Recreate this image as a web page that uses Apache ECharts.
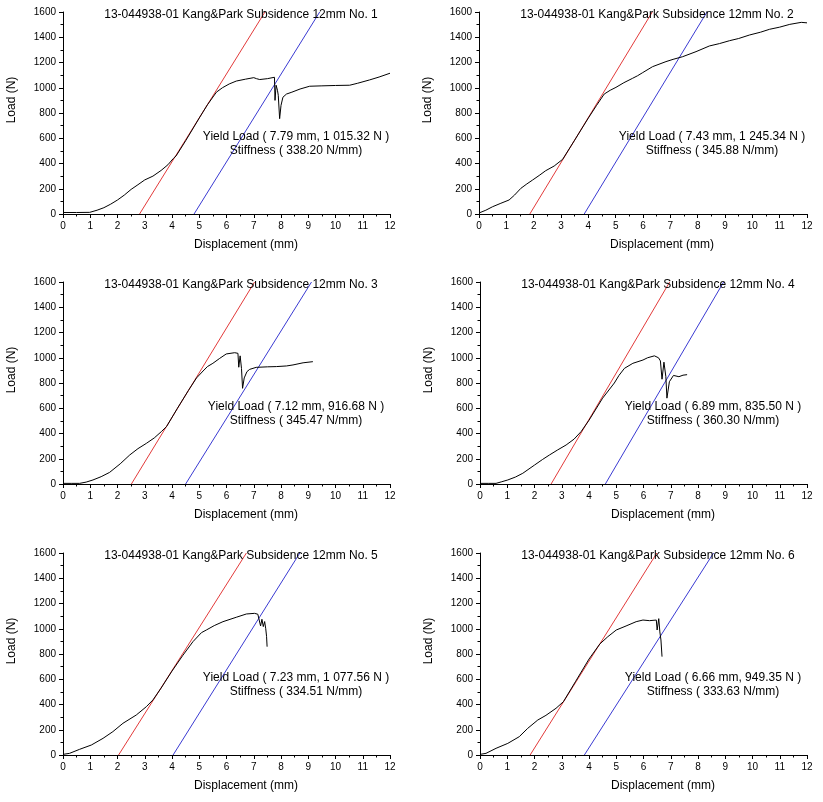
<!DOCTYPE html>
<html>
<head>
<meta charset="utf-8">
<script src="https://cdn.jsdelivr.net/npm/echarts@6/dist/echarts.min.js"></script>
<style>
html,body{margin:0;padding:0;background:#fff;}
#chart{width:823px;height:802px;}
</style>
</head>
<body>
<div id="chart"></div>
<script>
// ---- data ----
var titles = [
  '13-044938-01 Kang&Park Subsidence 12mm No. 1',
  '13-044938-01 Kang&Park Subsidence 12mm No. 2',
  '13-044938-01 Kang&Park Subsidence 12mm No. 3',
  '13-044938-01 Kang&Park Subsidence 12mm No. 4',
  '13-044938-01 Kang&Park Subsidence 12mm No. 5',
  '13-044938-01 Kang&Park Subsidence 12mm No. 6'
];
var yieldTexts = [
  'Yield Load ( 7.79 mm, 1 015.32 N )',
  'Yield Load ( 7.43 mm, 1 245.34 N )',
  'Yield Load ( 7.12 mm, 916.68 N )',
  'Yield Load ( 6.89 mm, 835.50 N )',
  'Yield Load ( 7.23 mm, 1 077.56 N )',
  'Yield Load ( 6.66 mm, 949.35 N )'
];
var stiffnessTexts = [
  'Stiffness ( 338.20 N/mm)',
  'Stiffness ( 345.88 N/mm)',
  'Stiffness ( 345.47 N/mm)',
  'Stiffness ( 360.30 N/mm)',
  'Stiffness ( 334.51 N/mm)',
  'Stiffness ( 333.63 N/mm)'
];
var xTicks = [0,1,2,3,4,5,6,7,8,9,10,11,12];
var yTicks = [0,200,400,600,800,1000,1200,1400,1600];
var xAxisName = 'Displacement (mm)';
var yAxisName = 'Load (N)';

var curve1 = [[0,12],[0.5,12],[0.98,13],[1.25,30],[1.5,50],[1.75,78],[2.0,111],[2.25,150],[2.5,195],[2.75,232],[3.0,270],[3.3,300],[3.6,345],[3.85,390],[4.05,440],[4.15,460],[4.5,580],[5.0,760],[5.3,865],[5.63,965],[5.85,1000],[6.1,1030],[6.36,1053],[6.7,1068],[7.0,1080],[7.1,1072],[7.22,1065],[7.5,1072],[7.76,1083],[7.78,900],[7.82,1020],[7.87,980],[7.9,940],[7.95,755],[8.0,860],[8.07,925],[8.2,950],[8.4,965],[8.7,990],[9.05,1012],[9.5,1015],[10.0,1018],[10.52,1020],[10.8,1035],[11.25,1062],[11.6,1085],[12.0,1115]];
var curve2 = [[0,8],[0.25,30],[0.5,58],[0.8,85],[1.1,111],[1.3,150],[1.53,203],[1.75,238],[1.96,269],[2.2,305],[2.44,343],[2.75,380],[3.06,433],[3.5,585],[4.0,760],[4.3,860],[4.58,950],[4.8,980],[5.01,1003],[5.3,1040],[5.62,1075],[5.8,1095],[5.99,1120],[6.35,1167],[6.84,1207],[7.1,1225],[7.45,1246],[7.94,1286],[8.43,1331],[8.8,1350],[9.17,1373],[9.5,1390],[9.9,1418],[10.3,1440],[10.63,1463],[11.0,1480],[11.37,1502],[11.79,1518],[12.0,1514]];
var curve3 = [[0,5],[0.3,5],[0.61,5],[0.85,15],[1.1,32],[1.4,58],[1.71,92],[2.1,160],[2.45,230],[2.75,280],[3.06,322],[3.35,365],[3.61,415],[3.8,455],[4.2,600],[4.6,740],[4.9,840],[5.14,895],[5.3,930],[5.5,956],[5.75,995],[5.99,1030],[6.3,1040],[6.42,1035],[6.45,925],[6.5,1015],[6.55,915],[6.59,758],[6.65,840],[6.75,890],[6.85,908],[7.09,924],[7.5,928],[7.83,930],[8.2,935],[8.44,943],[8.81,960],[9.17,969]];
var curve4 = [[0,5],[0.3,5],[0.59,5],[0.8,18],[1.02,32],[1.3,55],[1.57,85],[2.0,150],[2.3,195],[2.55,230],[2.85,270],[3.16,309],[3.45,355],[3.71,415],[4.0,505],[4.5,680],[4.93,800],[5.1,860],[5.3,916],[5.61,956],[5.98,982],[6.15,1000],[6.4,1015],[6.55,1000],[6.62,975],[6.68,830],[6.75,965],[6.82,850],[6.86,680],[6.95,810],[7.1,860],[7.3,850],[7.45,862],[7.6,866]];
var curve5 = [[0,5],[0.24,13],[0.61,45],[1.04,79],[1.47,132],[1.83,185],[2.2,251],[2.69,317],[3.06,383],[3.3,436],[3.6,530],[4.0,665],[4.4,790],[4.77,898],[5.08,969],[5.26,990],[5.55,1025],[5.87,1056],[6.36,1091],[6.73,1117],[7.03,1122],[7.15,1115],[7.22,1101],[7.25,1022],[7.3,1075],[7.35,1017],[7.4,1057],[7.44,1000],[7.47,940],[7.49,858]];
var curve6 = [[0,5],[0.22,13],[0.59,53],[1.02,92],[1.44,145],[1.75,211],[2.12,277],[2.42,314],[2.79,370],[3.06,422],[3.5,580],[4.0,760],[4.4,880],[4.69,937],[5.0,990],[5.36,1022],[5.73,1056],[5.98,1069],[6.22,1064],[6.47,1069],[6.5,990],[6.56,1080],[6.6,975],[6.64,911],[6.68,779]];

var red1 = [[2.81,0],[7.41,1600]];
var red2 = [[1.86,0],[6.34,1600]];
var red3 = [[2.51,0],[7.03,1600]];
var red4 = [[2.61,0],[6.96,1600]];
var red5 = [[2.04,0],[6.73,1600]];
var red6 = [[1.84,0],[6.49,1600]];
var blue1 = [[4.81,0],[9.42,1600]];
var blue2 = [[3.85,0],[8.34,1600]];
var blue3 = [[4.50,0],[9.12,1600]];
var blue4 = [[4.60,0],[8.94,1600]];
var blue5 = [[4.04,0],[8.69,1600]];
var blue6 = [[3.83,0],[8.57,1600]];

var curves = [curve1,curve2,curve3,curve4,curve5,curve6];
var reds = [red1,red2,red3,red4,red5,red6];
var blues = [blue1,blue2,blue3,blue4,blue5,blue6];

// ---- layout ----
var panels = [
  {l:63, t:12, w:327, h:202},
  {l:479, t:12, w:328, h:202},
  {l:63, t:282, w:327, h:202},
  {l:480, t:282, w:327, h:202},
  {l:63, t:553, w:327, h:202},
  {l:480, t:553, w:327, h:202}
];
var FONT = '"Liberation Sans", Arial, sans-serif';

var grid = [], xAxis = [], yAxis = [], series = [], graphic = [];
panels.forEach(function(p, i){
  grid.push({left:p.l, top:p.t, width:p.w, height:p.h, containLabel:false});
  var axisCommon = {
    gridIndex:i,
    axisLine:{show:true, onZero:false, lineStyle:{color:'#000', width:1}},
    axisTick:{show:true, inside:false, length:4, lineStyle:{color:'#000'}},
    minorTick:{show:true, splitNumber:2, length:2.5, lineStyle:{color:'#000'}},
    splitLine:{show:false},
    axisLabel:{color:'#000', fontSize:10, fontFamily:FONT, margin:7,
      formatter:function(v){ return String(v); }}
  };
  xAxis.push(Object.assign({}, axisCommon, {
    type:'value', min:xTicks[0], max:xTicks[xTicks.length-1], interval:1
  }));
  yAxis.push(Object.assign({}, axisCommon, {
    type:'value', min:yTicks[0], max:yTicks[yTicks.length-1], interval:200
  }));
  series.push({
    type:'line', xAxisIndex:i, yAxisIndex:i, data:reds[i], showSymbol:false,
    lineStyle:{color:'#e23a3a', width:1}, silent:true, z:2
  });
  series.push({
    type:'line', xAxisIndex:i, yAxisIndex:i, data:blues[i], showSymbol:false,
    lineStyle:{color:'#3a3ad2', width:1}, silent:true, z:2
  });
  series.push({
    type:'line', xAxisIndex:i, yAxisIndex:i, data:curves[i], showSymbol:false,
    lineStyle:{color:'#000', width:1}, silent:true, z:3
  });
  var ts = {fill:'#000', fontSize:12, fontFamily:FONT, textAlign:'center', textVerticalAlign:'middle'};
  graphic.push({type:'text', x:p.l+178, y:p.t+3, style:Object.assign({text:titles[i]}, ts), z:10});
  graphic.push({type:'text', x:p.l+233, y:p.t+125, style:Object.assign({text:yieldTexts[i]}, ts), z:10});
  graphic.push({type:'text', x:p.l+233, y:p.t+139, style:Object.assign({text:stiffnessTexts[i]}, ts), z:10});
  graphic.push({type:'text', x:p.l+183, y:p.t+p.h+31, style:Object.assign({text:xAxisName}, ts), z:10});
  graphic.push({type:'text', x:p.l-51, y:p.t+88, rotation:Math.PI/2, style:Object.assign({text:yAxisName}, ts), z:10});
});

var chart = echarts.init(document.getElementById('chart'), null, {renderer:'canvas'});
chart.setOption({
  animation:false,
  backgroundColor:'#fff',
  grid:grid, xAxis:xAxis, yAxis:yAxis, series:series, graphic:graphic
});
</script>
</body>
</html>
